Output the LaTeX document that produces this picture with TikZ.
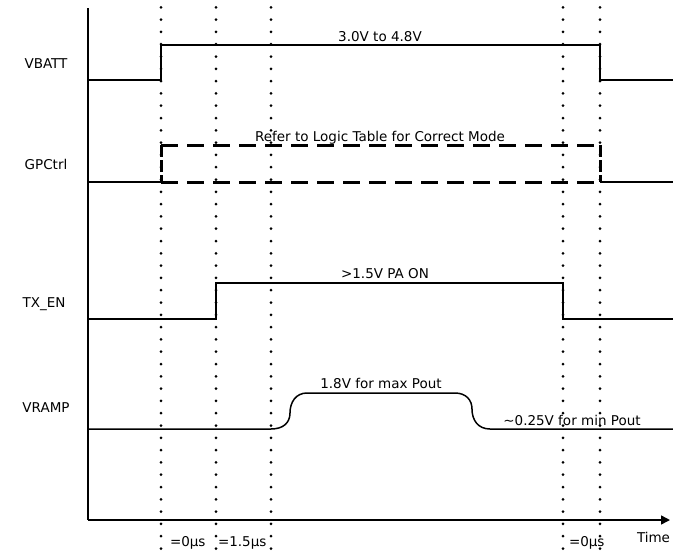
\documentclass[tikz,border=0pt]{standalone}
\usepackage{fontspec}
\setmainfont{DejaVu Sans}
\usetikzlibrary{arrows.meta}
\begin{document}
\begin{tikzpicture}[x=1pt,y=-1pt,
  every node/.style={inner sep=0pt,outer sep=0pt,font=\fontsize{13.5}{15}\selectfont},
  sig/.style={line width=1.5pt,line join=miter},
  dsig/.style={line width=3pt,dash pattern=on 17pt off 9pt},
  marker/.style={line width=3pt,line cap=round,dash pattern=on 0pt off 12.3pt},
  axis/.style={line width=1.5pt}]
\useasboundingbox (0,0) rectangle (673,550);
% markers
\foreach \xx in {161,216,271,563,600} \draw[marker] (\xx,7.3) -- (\xx,550);
% axes
\coordinate (o) at (88,520);
\coordinate (ytop) at (88,8);
\coordinate (xend) at (670,520);
\draw[axis] (ytop) -- (o);
\draw[axis,-{Triangle[length=9pt,width=9pt]}] (o) -- (xend);
% VBATT
\draw[sig] (88,80) -- (161,80) -- (161,45) -- (600,45) -- (600,80) -- (673,80);
% GPCtrl
\draw[sig] (88,182) -- (161,182);
\draw[sig] (600,182) -- (673,182);
\draw[dsig] (161,182) -- (600,182);
\draw[dsig] (161,145) -- (600,145);
\draw[dsig,dash pattern=on 12pt off 3pt] (161,145) -- (161,182);
\draw[dsig,dash pattern=on 12pt off 3pt] (600,145) -- (600,182);
% TX_EN
\draw[sig] (88,319) -- (216,319) -- (216,283) -- (563,283) -- (563,319) -- (673,319);
% VRAMP
\draw[sig] (88,429) -- (271,429)
  .. controls (283,429) and (290,423) .. (290,413)
  .. controls (290,402) and (296,393) .. (307,393)
  -- (455,393)
  .. controls (466,393) and (472,400) .. (472,409)
  .. controls (472,420) and (478,429) .. (490,429)
  -- (673,429);
% labels
\node[anchor=base] (lvb) at (46,68) {VBATT};
\node[anchor=base] (lgp) at (46,169) {GPCtrl};
\node[anchor=base] (ltx) at (44,307) {TX\_EN};
\node[anchor=base] (lvr) at (46,412) {VRAMP};
\node[anchor=base] (t1) at (380,41) {3.0V to 4.8V};
\node[anchor=base] (t2) at (380,141) {Refer to Logic Table for Correct Mode};
\node[anchor=base] (t3) at (385,278) {>1.5V PA ON};
\node[anchor=base] (t4) at (381,388) {1.8V for max Pout};
\node[anchor=base] (t5) at (572,425) {\textasciitilde0.25V for min Pout};
\node[anchor=base west] (m1) at (170,546) {=0μs};
\node[anchor=base west] (m2) at (218,546) {=1.5μs};
\node[anchor=base west] (m3) at (569,546) {=0μs};
\node[anchor=base west] (tm) at (637,542) {Time};
\end{tikzpicture}
\end{document}
